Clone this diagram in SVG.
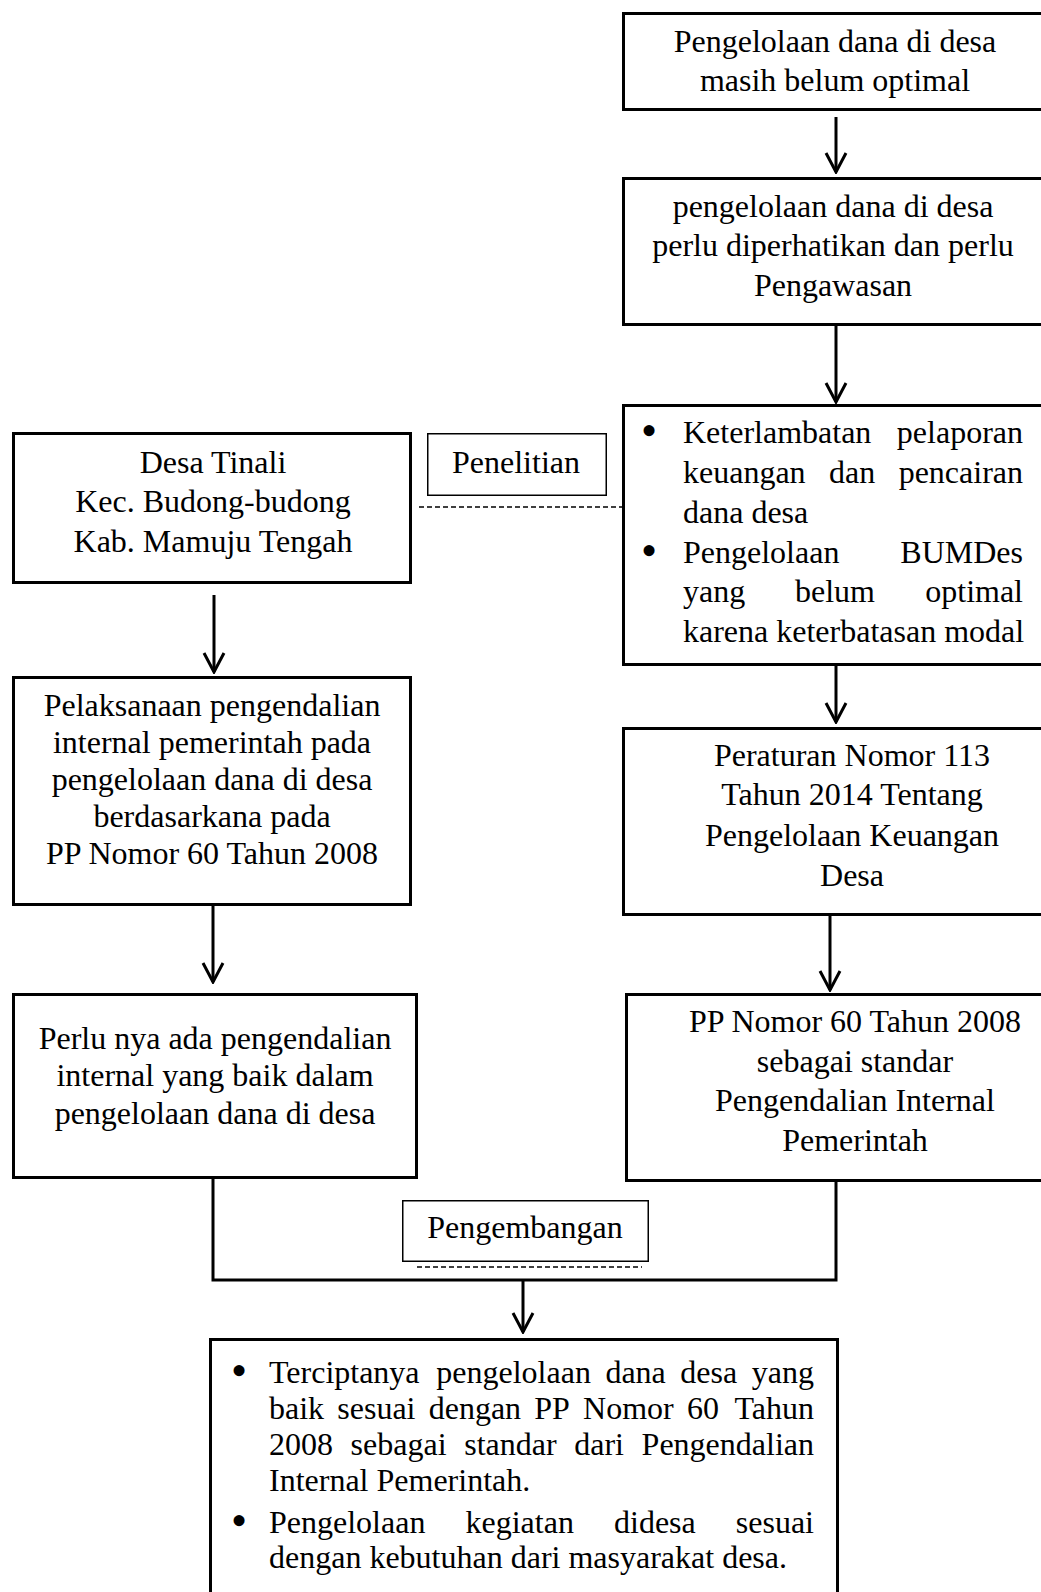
<svg xmlns="http://www.w3.org/2000/svg" width="1041" height="1592" viewBox="0 0 1041 1592">
<style>
.box{fill:#fff;stroke:#000;stroke-width:3}
.lbl{fill:#fff;stroke:#000;stroke-width:1.5}
.t{font-family:"Liberation Serif","Times New Roman",serif;font-size:32px;fill:#000}
.c{text-anchor:middle}
.e{text-anchor:end}
.b{font-family:"Liberation Serif","Times New Roman",serif;font-size:46px;fill:#000;text-anchor:middle}
.ln{stroke:#000;stroke-width:3;fill:none}
.dash{stroke:#000;stroke-width:1.5;stroke-dasharray:5 3;fill:none}
</style>
<defs>
<marker id="ah" viewBox="-2 -12 24 24" refX="20" refY="0" markerWidth="24" markerHeight="24" markerUnits="userSpaceOnUse" orient="auto">
<path d="M1,-10 L20,0 L1,10" fill="none" stroke="#000" stroke-width="3"/>
</marker>
</defs>
<rect width="1041" height="1592" fill="#fff"/>

<g id="n1">
<rect class="box" x="623.5" y="13.5" width="440" height="96"/>
<text class="t c" x="835" y="52">Pengelolaan dana di desa</text>
<text class="t c" x="835" y="91">masih belum optimal</text>
</g>

<g id="n2">
<rect class="box" x="623.5" y="178.5" width="440" height="146"/>
<text class="t c" x="833" y="217">pengelolaan dana di desa</text>
<text class="t c" x="833" y="256">perlu diperhatikan dan perlu</text>
<text class="t c" x="833" y="296">Pengawasan</text>
</g>

<g id="n3">
<rect class="box" x="623.5" y="405.5" width="440" height="259"/>
<text class="b" x="649" y="446">•</text>
<text class="t" x="683" y="443">Keterlambatan</text>
<text class="t e" x="1023" y="443">pelaporan</text>
<text class="t" x="683" y="483">keuangan</text>
<text class="t" x="829" y="483">dan</text>
<text class="t e" x="1023" y="483">pencairan</text>
<text class="t" x="683" y="523">dana desa</text>
<text class="b" x="649" y="566">•</text>
<text class="t" x="683" y="563">Pengelolaan</text>
<text class="t e" x="1023" y="563">BUMDes</text>
<text class="t" x="683" y="602">yang</text>
<text class="t" x="795" y="602">belum</text>
<text class="t e" x="1023" y="602">optimal</text>
<text class="t" x="683" y="642">karena keterbatasan modal</text>
</g>

<g id="n4">
<rect class="box" x="623.5" y="728.5" width="440" height="186"/>
<text class="t c" x="852" y="766">Peraturan Nomor 113</text>
<text class="t c" x="852" y="805">Tahun 2014 Tentang</text>
<text class="t c" x="852" y="846">Pengelolaan Keuangan</text>
<text class="t c" x="852" y="886">Desa</text>
</g>

<g id="n5">
<rect class="box" x="626.5" y="994.5" width="440" height="186"/>
<text class="t c" x="855" y="1032">PP Nomor 60 Tahun 2008</text>
<text class="t c" x="855" y="1072">sebagai standar</text>
<text class="t c" x="855" y="1111">Pengendalian Internal</text>
<text class="t c" x="855" y="1151">Pemerintah</text>
</g>

<g id="nA">
<rect class="box" x="13.5" y="433.5" width="397" height="149"/>
<text class="t c" x="213" y="473">Desa Tinali</text>
<text class="t c" x="213" y="512">Kec. Budong-budong</text>
<text class="t c" x="213" y="552">Kab. Mamuju Tengah</text>
</g>

<g id="penelitian">
<rect class="lbl" x="427.75" y="433.75" width="178.5" height="61.5"/>
<text class="t c" x="516" y="473">Penelitian</text>
</g>

<g id="nB">
<rect class="box" x="13.5" y="677.5" width="397" height="227"/>
<text class="t c" x="212" y="716">Pelaksanaan pengendalian</text>
<text class="t c" x="212" y="753">internal pemerintah pada</text>
<text class="t c" x="212" y="790">pengelolaan dana di desa</text>
<text class="t c" x="212" y="827">berdasarkana pada</text>
<text class="t c" x="212" y="864">PP Nomor 60 Tahun 2008</text>
</g>

<g id="nC">
<rect class="box" x="13.5" y="994.5" width="403" height="183"/>
<text class="t c" x="215" y="1049">Perlu nya ada pengendalian</text>
<text class="t c" x="215" y="1086">internal yang baik dalam</text>
<text class="t c" x="215" y="1124">pengelolaan dana di desa</text>
</g>

<g id="connectors">
<line class="ln" x1="836" y1="117" x2="836" y2="172" marker-end="url(#ah)"/>
<line class="ln" x1="836" y1="326" x2="836" y2="402" marker-end="url(#ah)"/>
<line class="ln" x1="836" y1="665" x2="836" y2="722" marker-end="url(#ah)"/>
<line class="ln" x1="830" y1="915" x2="830" y2="990" marker-end="url(#ah)"/>
<line class="ln" x1="214" y1="595" x2="214" y2="672" marker-end="url(#ah)"/>
<line class="ln" x1="213" y1="906" x2="213" y2="982" marker-end="url(#ah)"/>
<polyline class="ln" points="213,1178 213,1280 836,1280 836,1182"/>
<line class="ln" x1="523" y1="1280" x2="523" y2="1332" marker-end="url(#ah)"/>
<line class="dash" x1="419" y1="507" x2="622" y2="507"/>
<line class="dash" x1="417" y1="1267" x2="642" y2="1267"/>
</g>

<g id="pengembangan">
<rect class="lbl" x="402.75" y="1200.75" width="245.5" height="60.5"/>
<text class="t c" x="525" y="1238">Pengembangan</text>
</g>

<g id="nBottom">
<rect class="box" x="210.5" y="1339.5" width="627" height="300"/>
<text class="b" x="239" y="1386">•</text>
<text class="t" x="269" y="1383">Terciptanya</text>
<text class="t" x="436.3" y="1383">pengelolaan</text>
<text class="t" x="605.4" y="1383">dana</text>
<text class="t" x="680.3" y="1383">desa</text>
<text class="t e" x="814" y="1383">yang</text>
<text class="t" x="269" y="1419">baik</text>
<text class="t" x="337.3" y="1419">sesuai</text>
<text class="t" x="428.7" y="1419">dengan</text>
<text class="t" x="534.3" y="1419">PP</text>
<text class="t" x="583.1" y="1419">Nomor</text>
<text class="t" x="687" y="1419">60</text>
<text class="t e" x="814" y="1419">Tahun</text>
<text class="t" x="269" y="1455">2008</text>
<text class="t" x="350.6" y="1455">sebagai</text>
<text class="t" x="464.2" y="1455">standar</text>
<text class="t" x="574.2" y="1455">dari</text>
<text class="t e" x="814" y="1455">Pengendalian</text>
<text class="t" x="269" y="1491">Internal Pemerintah.</text>
<text class="b" x="239" y="1536">•</text>
<text class="t" x="269" y="1533">Pengelolaan</text>
<text class="t" x="465.5" y="1533">kegiatan</text>
<text class="t" x="614" y="1533">didesa</text>
<text class="t e" x="814" y="1533">sesuai</text>
<text class="t" x="269" y="1568">dengan kebutuhan dari masyarakat desa.</text>
</g>
</svg>
